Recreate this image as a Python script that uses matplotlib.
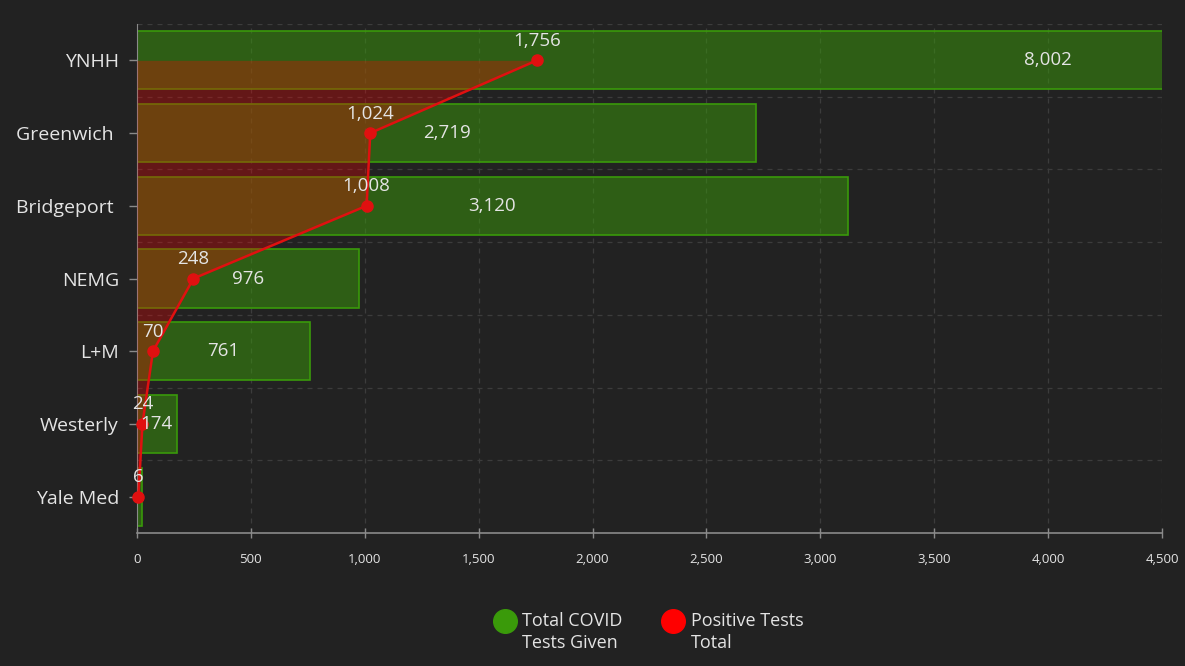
import matplotlib
matplotlib.use("Agg")
import matplotlib.pyplot as plt
from matplotlib.lines import Line2D

plt.rcParams['font.family'] = ['Open Sans', 'DejaVu Sans']

categories = ["YNHH", "Greenwich ", "Bridgeport ", "NEMG", "L+M", "Westerly", "Yale Med"]
total_tests = [8002, 2719, 3120, 976, 761, 174, 22]
positive_tests = [1756, 1024, 1008, 248, 70, 24, 6]
x_ticks = [0, 500, 1000, 1500, 2000, 2500, 3000, 3500, 4000, 4500]
legend_labels = ["Total COVID\nTests Given", "Positive Tests\nTotal"]

BG = "#222222"
GREEN = "#3a9a0a"
RED = "#e01010"
TXT = "#e4e4e4"

fig = plt.figure(figsize=(11.85, 6.66), dpi=100, facecolor=BG)
ax = fig.add_axes([137/1185, 1-533/666, (1162-137)/1185, (533-24)/666])
ax.set_facecolor(BG)

ypos = list(range(len(categories)))

ax.barh(ypos, total_tests, height=0.8, color=(58/255, 154/255, 10/255, 0.5),
        edgecolor=GREEN, linewidth=1.2, zorder=2)

ax.fill_betweenx(ypos, 0, positive_tests, color=(1, 0, 0, 0.3), linewidth=0, zorder=3)
ax.plot(positive_tests, ypos, color=RED, linewidth=1.8, marker='o', markersize=8,
        markerfacecolor=RED, markeredgecolor=RED, zorder=5, clip_on=False)

for y, v in zip(ypos, total_tests):
    if v >= 100:
        ax.text(v / 2, y, f"{v:,}", color=TXT, fontsize=13.5, ha='center', va='center',
                zorder=6, clip_on=False)

for y, v in zip(ypos, positive_tests):
    ax.annotate(f"{v:,}", (v, y), xytext=(0, 14), textcoords='offset points',
                color=TXT, fontsize=13.5, ha='center', va='center', zorder=7,
                annotation_clip=False)

ax.set_xlim(0, 4500)
ax.set_ylim(len(categories) - 0.5, -0.5)
ax.set_xticks(x_ticks)
ax.set_xticklabels([f"{t:,}" for t in x_ticks])
ax.set_yticks(ypos)
ax.set_yticklabels(categories)

ax.grid(False)
for xv in x_ticks[1:]:
    ax.axvline(xv, color="#3c3c3c", linewidth=0.9, linestyle=(0, (4, 4)), zorder=1)
for i in range(-1, len(categories) - 1):
    ax.axhline(i + 0.5, color="#3c3c3c", linewidth=0.9, linestyle=(0, (4, 4)), zorder=1)

for s in ['top', 'right']:
    ax.spines[s].set_visible(False)
ax.spines['bottom'].set_color("#8a8a8a")
ax.spines['left'].set_color("#8a8a8a")
ax.spines['bottom'].set_linewidth(1.2)

ax.tick_params(axis='y', which='major', colors="#8a8a8a", length=6, width=1,
               labelcolor=TXT, labelsize=14, pad=7)
ax.tick_params(axis='x', colors="#8a8a8a", length=7, width=1, direction='inout',
               labelcolor=TXT, labelsize=9.5, pad=11)

# legend
fig.add_artist(Line2D([505/1185], [1-621/666], marker='o', markersize=17,
                      color=GREEN, transform=fig.transFigure, linestyle='none'))
fig.add_artist(Line2D([673/1185], [1-621/666], marker='o', markersize=17,
                      color="#ff0000", transform=fig.transFigure, linestyle='none'))
fig.text(522/1185, 1-612/666, legend_labels[0], color=TXT, fontsize=13,
         ha='left', va='top', linespacing=1.3)
fig.text(691/1185, 1-612/666, legend_labels[1], color=TXT, fontsize=13,
         ha='left', va='top', linespacing=1.3)

fig.savefig("out.png", dpi=100, facecolor=BG)
